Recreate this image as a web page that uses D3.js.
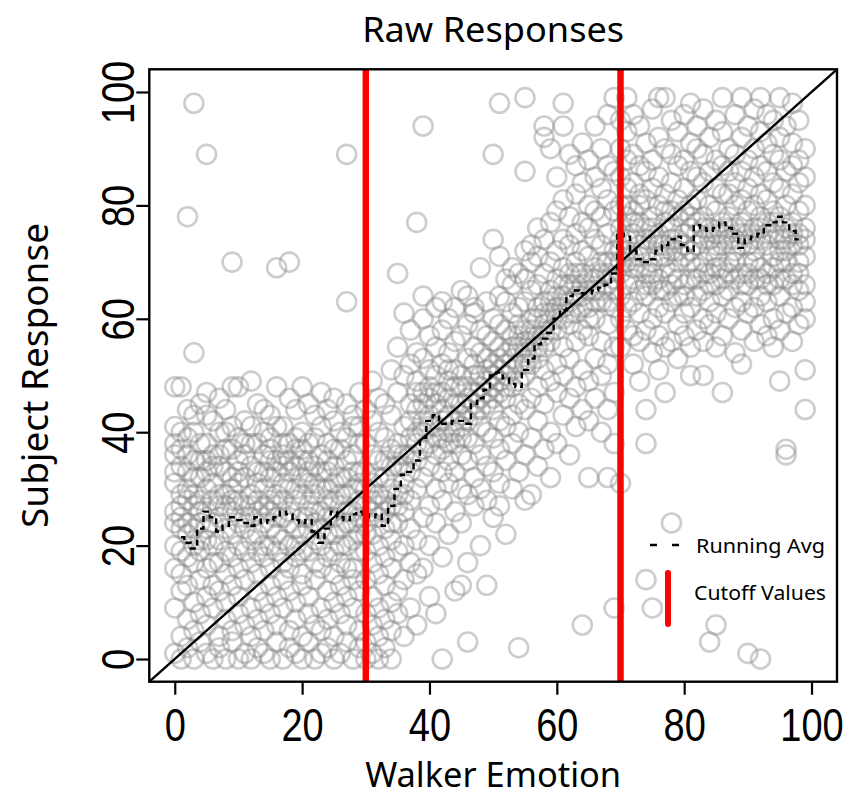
<!DOCTYPE html>
<html>
<head>
<meta charset="utf-8">
<script src="https://cdn.jsdelivr.net/npm/d3@7"></script>
<style>
  body { margin: 0; background: #fff; }
  svg { display: block; }
</style>
</head>
<body>
<div id="chart"></div>
<script>
// axis ticks and cutoff values
const xTicks = [0, 20, 40, 60, 80, 100];
const yTicks = [0, 20, 40, 60, 80, 100];
const cutoffs = [30, 70];

// raw responses, one entry per walker emotion value: [x, [responses]]
const lowCols = [
  [0, [1, 9, 16, 20, 24, 26, 31, 33, 36, 38, 41, 48]],
  [1, [0, 4, 12, 15, 19, 23, 25, 27, 29, 34, 37, 40, 48]],
  [2, [2, 7, 13, 18, 22, 24, 28, 30, 33, 36, 39, 44, 78]],
  [3, [0, 5, 10, 17, 20, 23, 27, 29, 32, 35, 40, 43, 54, 98]],
  [4, [3, 8, 14, 19, 21, 24, 26, 28, 32, 35, 38, 45]],
  [5, [1, 6, 11, 16, 21, 23, 26, 30, 33, 35, 38, 43, 47, 89]],
  [6, [0, 9, 13, 17, 20, 24, 28, 31, 34, 36, 42]],
  [7, [2, 4, 12, 17, 21, 25, 27, 29, 34, 36, 40, 46]],
  [8, [0, 7, 10, 15, 19, 23, 27, 29, 33, 37, 40, 44]],
  [9, [3, 5, 13, 18, 22, 26, 28, 30, 32, 37, 41, 48, 70]],
  [10, [0, 8, 11, 16, 20, 24, 28, 31, 33, 35, 39, 48]],
  [11, [1, 6, 14, 19, 23, 25, 27, 32, 36, 38, 42]],
  [12, [0, 4, 9, 17, 21, 25, 27, 29, 34, 38, 41, 49]],
  [13, [2, 7, 12, 15, 19, 22, 26, 28, 31, 33, 38, 45]],
  [14, [1, 5, 10, 18, 20, 24, 27, 30, 33, 36, 40, 44]],
  [15, [0, 8, 13, 16, 20, 23, 26, 28, 32, 35, 37, 39, 43]],
  [16, [3, 6, 11, 19, 22, 25, 27, 29, 33, 35, 41, 48, 69]],
  [17, [0, 9, 14, 17, 21, 25, 28, 31, 34, 36, 38, 41]],
  [18, [2, 5, 12, 16, 20, 24, 26, 30, 33, 35, 38, 46, 70]],
  [19, [1, 7, 10, 18, 20, 23, 28, 30, 34, 37, 39, 44]],
  [20, [0, 4, 13, 15, 19, 22, 25, 29, 32, 35, 37, 40, 48]],
  [21, [3, 8, 11, 19, 23, 25, 27, 31, 33, 35, 38, 45]],
  [22, [0, 6, 14, 17, 21, 24, 26, 29, 31, 34, 39, 43]],
  [23, [1, 5, 9, 16, 20, 23, 26, 30, 33, 36, 41, 47]],
  [24, [2, 7, 12, 18, 22, 25, 28, 30, 33, 35, 38, 44]],
  [25, [0, 4, 10, 15, 19, 22, 25, 28, 31, 34, 37, 42, 46]],
  [26, [1, 8, 13, 17, 20, 23, 27, 29, 32, 37, 40]],
  [27, [3, 6, 11, 16, 20, 24, 26, 29, 32, 35, 39, 45, 63, 89]],
  [28, [0, 9, 14, 16, 21, 24, 26, 30, 33, 36, 41, 43]],
  [29, [2, 5, 12, 19, 22, 25, 28, 31, 33, 38, 41, 47]]
];

const midCols = [
  [30, [0, 3, 8, 14, 19, 22, 24, 27, 30, 33, 38, 44]],
  [31, [1, 6, 11, 17, 22, 26, 28, 31, 36, 42, 49]],
  [32, [0, 4, 9, 15, 20, 25, 27, 29, 32, 35, 40, 46]],
  [33, [2, 7, 13, 18, 23, 26, 28, 32, 35, 39, 45]],
  [34, [0, 5, 10, 16, 21, 24, 27, 30, 34, 37, 43, 51]],
  [35, [8, 12, 19, 24, 27, 29, 34, 36, 38, 47, 55, 68]],
  [36, [4, 14, 20, 26, 29, 31, 34, 36, 41, 50, 61]],
  [37, [9, 17, 23, 28, 33, 36, 39, 42, 45, 52, 58]],
  [38, [6, 15, 21, 30, 35, 38, 40, 44, 47, 49, 54, 77]],
  [39, [16, 25, 32, 37, 40, 42, 45, 47, 53, 60, 64, 94]],
  [40, [11, 20, 27, 34, 38, 41, 43, 46, 48, 51, 57]],
  [41, [8, 24, 30, 36, 39, 41, 45, 47, 50, 55, 62]],
  [42, [0, 18, 28, 33, 37, 39, 42, 44, 47, 52, 58, 63]],
  [43, [22, 31, 35, 38, 40, 43, 46, 49, 51, 54, 60]],
  [44, [12, 26, 33, 38, 40, 42, 45, 48, 51, 56, 62]],
  [45, [13, 24, 30, 36, 39, 41, 43, 45, 48, 50, 57, 65]],
  [46, [3, 17, 29, 35, 39, 42, 44, 46, 48, 53, 59, 64]],
  [47, [27, 32, 38, 43, 45, 47, 50, 52, 55, 61, 62]],
  [48, [20, 30, 36, 41, 44, 46, 48, 50, 54, 58, 69]],
  [49, [13, 28, 34, 40, 45, 47, 49, 51, 53, 57, 63]],
  [50, [25, 33, 39, 44, 46, 48, 50, 52, 56, 60, 74, 89]],
  [51, [27, 31, 37, 42, 47, 49, 51, 53, 55, 59, 64, 71, 98]],
  [52, [22, 35, 41, 46, 48, 50, 52, 54, 58, 63, 67]],
  [53, [30, 38, 43, 48, 51, 53, 55, 57, 61, 66, 69]],
  [54, [2, 33, 40, 45, 49, 52, 55, 57, 59, 62, 68]],
  [55, [28, 36, 44, 50, 52, 54, 56, 58, 63, 67, 72, 86, 99]],
  [56, [29, 39, 46, 52, 54, 56, 58, 60, 65, 70, 73]],
  [57, [34, 42, 48, 53, 55, 57, 60, 62, 66, 71, 76]],
  [58, [37, 45, 51, 55, 57, 59, 61, 63, 68, 74, 92, 94]],
  [59, [32, 40, 49, 56, 58, 61, 63, 65, 70, 77, 90]],
  [60, [38, 47, 52, 58, 60, 62, 64, 67, 72, 79, 85]],
  [61, [43, 50, 55, 60, 62, 64, 66, 69, 74, 81, 94, 98]],
  [62, [36, 46, 53, 59, 61, 63, 66, 68, 73, 78, 89]],
  [63, [41, 48, 56, 61, 64, 66, 68, 70, 75, 82, 87]],
  [64, [6, 44, 51, 58, 62, 64, 66, 68, 72, 77, 84, 91]],
  [65, [32, 42, 49, 57, 60, 62, 65, 67, 71, 76, 80, 88]],
  [66, [46, 53, 60, 63, 65, 67, 69, 74, 79, 85, 94]],
  [67, [40, 50, 56, 63, 65, 68, 70, 73, 78, 83, 90]],
  [68, [32, 44, 52, 59, 63, 66, 68, 70, 75, 81, 87, 96]],
  [69, [9, 38, 47, 55, 62, 65, 67, 70, 72, 79, 86, 99]]
];

const highCols = [
  [70, [31, 55, 60, 64, 68, 70, 72, 74, 76, 80, 85, 90, 95]],
  [71, [58, 62, 66, 70, 72, 74, 78, 80, 83, 88, 93, 99]],
  [72, [52, 57, 63, 67, 69, 71, 75, 77, 79, 84, 89, 96]],
  [73, [49, 56, 61, 65, 69, 71, 73, 77, 80, 82, 87, 94]],
  [74, [14, 38, 44, 58, 64, 66, 68, 72, 74, 76, 81, 86, 91]],
  [75, [9, 54, 60, 66, 68, 70, 74, 76, 78, 83, 88, 97]],
  [76, [51, 57, 62, 65, 67, 71, 73, 75, 80, 85, 92, 99]],
  [77, [47, 55, 61, 65, 69, 71, 73, 77, 79, 82, 90, 99]],
  [78, [24, 56, 63, 66, 68, 72, 74, 76, 79, 84, 89, 95]],
  [79, [53, 59, 64, 67, 70, 72, 74, 78, 81, 87, 93]],
  [80, [57, 61, 64, 66, 71, 73, 75, 79, 83, 88, 96]],
  [81, [50, 55, 62, 67, 70, 72, 76, 78, 80, 86, 91, 98]],
  [82, [58, 64, 67, 69, 73, 75, 77, 81, 85, 90, 94]],
  [83, [50, 56, 60, 65, 68, 70, 74, 76, 78, 84, 89, 97]],
  [84, [3, 59, 63, 66, 68, 72, 74, 76, 80, 86, 92]],
  [85, [6, 55, 61, 66, 69, 71, 73, 75, 79, 83, 88, 95]],
  [86, [47, 57, 64, 67, 69, 73, 75, 77, 82, 87, 93, 99]],
  [87, [60, 65, 68, 70, 74, 76, 78, 82, 86, 90]],
  [88, [54, 62, 67, 70, 72, 74, 76, 80, 84, 89, 96]],
  [89, [52, 58, 63, 66, 68, 73, 75, 77, 81, 86, 92, 99]],
  [90, [1, 61, 66, 68, 70, 73, 75, 79, 83, 88, 94]],
  [91, [56, 62, 67, 70, 72, 74, 76, 80, 85, 90, 97]],
  [92, [0, 59, 64, 67, 69, 74, 76, 78, 82, 87, 93, 99]],
  [93, [57, 63, 66, 68, 73, 75, 77, 81, 86, 91, 96]],
  [94, [55, 60, 66, 69, 71, 75, 77, 79, 84, 89, 95]],
  [95, [49, 58, 64, 67, 70, 72, 74, 78, 83, 88, 92, 99]],
  [96, [36, 37, 61, 67, 70, 72, 74, 76, 80, 86, 94]],
  [97, [56, 62, 66, 68, 73, 75, 77, 82, 87, 91, 98]],
  [98, [59, 65, 68, 70, 73, 75, 79, 84, 88, 95]],
  [99, [44, 51, 60, 63, 66, 71, 74, 76, 80, 85, 90]]
];

// running average of responses, for walker emotion 1..98
const runAvg = [
  21.5, 20.5, 19.5, 23, 26, 25, 22.5, 23.5, 25, 24.5,
  24, 23.5, 25, 24, 24.5, 25, 26, 25.5, 24.5, 24,
  24.5, 22.5, 20.5, 23, 26, 25, 24.5, 25.5, 26, 25.5,
  25, 25.5, 23.5, 27, 30, 32.5, 33, 35, 39, 42,
  43, 41.5, 41.5, 42, 42, 41.5, 45, 46, 47.5, 50,
  50.5, 49.5, 48.5, 48, 51, 53, 55.5, 56.5, 57.5, 60,
  61.5, 64, 65, 64.5, 64.5, 65, 65.5, 66, 68, 75,
  74.5, 72, 70.5, 70, 70.5, 72, 73, 74, 74.5, 73,
  72, 76.5, 76, 75.5, 76, 77, 76, 75, 72.5, 74,
  74.5, 75, 76.5, 77, 78, 77, 75.5, 74
];

class Raw_Responses_Plot {
  constructor(element, width, height, box) {
    this.element = element;
    this.width = width;
    this.height = height;
    this.box = box;
    this.points = [];
    [lowCols, midCols, highCols].forEach((cols) => {
      cols.forEach(([x, ys]) => ys.forEach((y) => this.points.push({ x: x, y: y })));
    });
    this.avg = runAvg.map((v, i) => ({ x: i + 1, y: v }));
    this.draw();
  }

  draw() {
    this.svg = d3
      .select(this.element)
      .append("svg")
      .attr("width", this.width)
      .attr("height", this.height)
      .style("font-family", "'Liberation Sans', Arial, sans-serif");

    this.createScales();
    this.drawPoints();
    this.drawLines();
    this.drawAxis();
    this.drawLabels();
    this.drawLegend();
  }

  createScales() {
    const b = this.box;
    this.xScale = d3.scaleLinear().domain([-4, 104]).range([b.left, b.right]);
    this.yScale = d3.scaleLinear().domain([-4, 104]).range([b.bottom, b.top]);
  }

  drawPoints() {
    this.svg
      .append("g")
      .selectAll("circle")
      .data(this.points)
      .join("circle")
      .attr("cx", (d) => this.xScale(d.x))
      .attr("cy", (d) => this.yScale(d.y))
      .attr("r", 9.5)
      .attr("fill", "none")
      .attr("stroke", "rgb(135,135,135)")
      .attr("stroke-opacity", 0.42)
      .attr("stroke-width", 2.6);
  }

  drawLines() {
    const x = this.xScale;
    const y = this.yScale;

    // identity line across the whole box
    this.svg
      .append("line")
      .attr("x1", x(-4))
      .attr("y1", y(-4))
      .attr("x2", x(104))
      .attr("y2", y(104))
      .attr("stroke", "#000")
      .attr("stroke-width", 2.4);

    const line = d3
      .line()
      .x((d) => x(d.x))
      .y((d) => y(d.y))
      .curve(d3.curveStep);

    this.svg
      .append("path")
      .datum(this.avg)
      .attr("d", line)
      .attr("fill", "none")
      .attr("stroke", "#000")
      .attr("stroke-width", 2.4)
      .attr("stroke-dasharray", "6,4");

    this.svg
      .append("g")
      .selectAll("line")
      .data(cutoffs)
      .join("line")
      .attr("x1", (d) => x(d))
      .attr("x2", (d) => x(d))
      .attr("y1", y(104))
      .attr("y2", y(-4))
      .attr("stroke", "#ff0000")
      .attr("stroke-width", 6.5);
  }

  drawAxis() {
    const b = this.box;
    const fontSize = 38;

    const xAxis = d3.axisBottom(this.xScale).tickValues(xTicks).tickSize(13).tickPadding(6);
    const gx = this.svg
      .append("g")
      .attr("transform", `translate(0,${b.bottom})`)
      .call(xAxis);
    gx.select(".domain").remove();
    gx.selectAll("line").attr("stroke", "#000").attr("stroke-width", 2.2);
    gx.selectAll("text")
      .attr("font-size", fontSize)
      .attr("font-family", "'Liberation Sans', Arial, sans-serif")
      .attr("fill", "#000")
      .attr("dy", 0)
      .attr("y", 0)
      .attr("transform", "translate(0,59) scale(1,1.2)");

    const yAxis = d3.axisLeft(this.yScale).tickValues(yTicks).tickSize(13).tickPadding(6);
    const gy = this.svg
      .append("g")
      .attr("transform", `translate(${b.left},0)`)
      .call(yAxis);
    gy.select(".domain").remove();
    gy.selectAll("line").attr("stroke", "#000").attr("stroke-width", 2.2);
    gy.selectAll("text")
      .attr("font-size", fontSize)
      .attr("font-family", "'Liberation Sans', Arial, sans-serif")
      .attr("fill", "#000")
      .attr("text-anchor", "middle")
      .attr("x", 0)
      .attr("y", 0)
      .attr("dy", 0)
      .attr("transform", "translate(-15,0) rotate(-90) scale(1,1.2)");

    // plot box
    this.svg
      .append("rect")
      .attr("x", b.left)
      .attr("y", b.top)
      .attr("width", b.right - b.left)
      .attr("height", b.bottom - b.top)
      .attr("fill", "none")
      .attr("stroke", "#000")
      .attr("stroke-width", 2.4);
  }

  drawLabels() {
    const b = this.box;
    const cx = (b.left + b.right) / 2;
    const cy = (b.top + b.bottom) / 2;
    const font = "'Noto Sans', 'Open Sans', sans-serif";

    this.svg
      .append("text")
      .attr("x", cx)
      .attr("y", 42)
      .attr("text-anchor", "middle")
      .attr("font-family", font)
      .attr("font-size", 34)
      .attr("textLength", 262)
      .attr("lengthAdjust", "spacingAndGlyphs")
      .text("Raw Responses");

    this.svg
      .append("text")
      .attr("x", cx)
      .attr("y", 787)
      .attr("text-anchor", "middle")
      .attr("font-family", font)
      .attr("font-size", 34)
      .attr("textLength", 256)
      .attr("lengthAdjust", "spacingAndGlyphs")
      .text("Walker Emotion");

    this.svg
      .append("text")
      .attr("transform", `translate(48,${cy}) rotate(-90)`)
      .attr("text-anchor", "middle")
      .attr("font-family", font)
      .attr("font-size", 36)
      .attr("textLength", 305)
      .attr("lengthAdjust", "spacingAndGlyphs")
      .text("Subject Response");
  }

  drawLegend() {
    const g = this.svg.append("g").attr("font-family", "'Noto Sans', 'Open Sans', sans-serif");

    g.append("line")
      .attr("x1", 650)
      .attr("x2", 688)
      .attr("y1", 545)
      .attr("y2", 545)
      .attr("stroke", "#000")
      .attr("stroke-width", 2.4)
      .attr("stroke-dasharray", "7,15");

    g.append("line")
      .attr("x1", 668)
      .attr("x2", 668)
      .attr("y1", 573)
      .attr("y2", 624)
      .attr("stroke", "#ff0000")
      .attr("stroke-width", 6)
      .attr("stroke-linecap", "round");

    g.append("text")
      .attr("x", 696)
      .attr("y", 553)
      .attr("font-size", 20)
      .attr("textLength", 129)
      .attr("lengthAdjust", "spacingAndGlyphs")
      .text("Running Avg");

    g.append("text")
      .attr("x", 694)
      .attr("y", 600)
      .attr("font-size", 20)
      .attr("textLength", 132)
      .attr("lengthAdjust", "spacingAndGlyphs")
      .text("Cutoff Values");
  }
}

new Raw_Responses_Plot(document.getElementById("chart"), 849, 799, {
  left: 149.3,
  right: 837,
  top: 69.3,
  bottom: 681.7
});
</script>
</body>
</html>
